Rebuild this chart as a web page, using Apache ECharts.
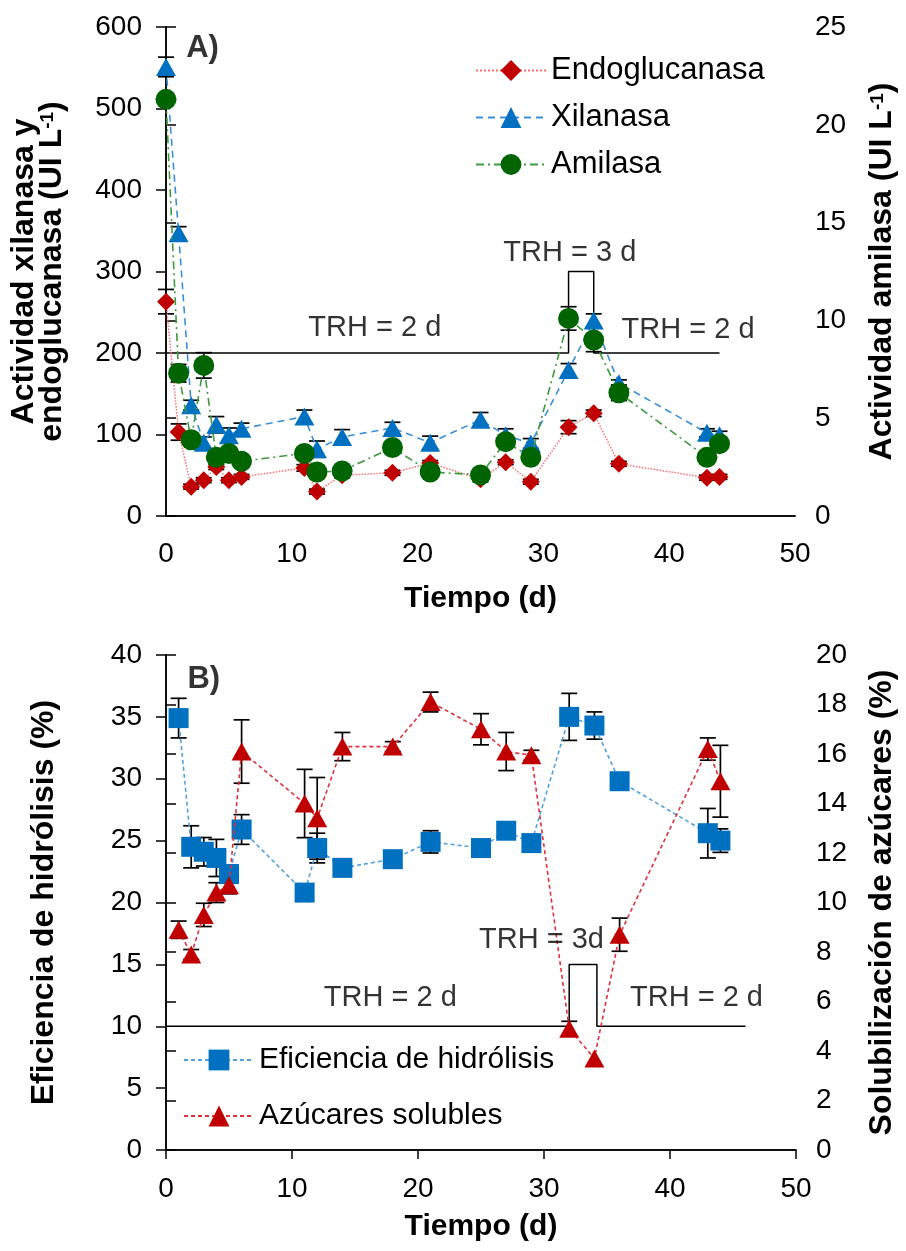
<!DOCTYPE html>
<html>
<head>
<meta charset="utf-8">
<script src="https://cdn.jsdelivr.net/npm/echarts@6/dist/echarts.min.js"></script>
<style>
html,body{margin:0;padding:0;background:#fff;}
#chart{width:906px;height:1251px;}
</style>
</head>
<body>
<div id="chart"></div>
<script>
// ---------- Panel A data ----------
const daysA = [0, 1, 2, 3, 4, 5, 6, 11, 12, 14, 18, 21, 25, 27, 29, 32, 34, 36, 43, 44];
const endo    = [263, 103, 36, 44, 60, 44, 48, 59, 30, 50, 53, 65, 45, 66, 42, 109, 126, 64, 47, 48];
const endoErr = [15, 10, 3, 3, 3, 3, 3, 4, 3, 3, 3, 3, 3, 3, 3, 8, 4, 3, 3, 3];
const xil     = [551, 347, 136, 90, 112, 99, 107, 122, 82, 97, 108, 90, 118, 99, 89, 179, 240, 163, 102, 99];
const xilErr  = [12, 8, 6, 7, 10, 9, 7, 8, 10, 9, 7, 8, 9, 8, 6, 8, 8, 4, 5, 5];
const ami     = [21.3, 7.3, 3.9, 7.7, 3.0, 3.2, 2.8, 3.2, 2.25, 2.3, 3.5, 2.25, 2.1, 3.8, 3.0, 10.1, 9.0, 6.3, 3.0, 3.7];
const amiErr  = [0.2, 0.45, 0.1, 0.65, 0.2, 0.1, 0.1, 0.1, 0.1, 0.1, 0.1, 0.1, 0.1, 0.2, 0.1, 0.6, 0.6, 0.4, 0.1, 0.1];
const trhA = [[0, 200], [32, 200], [32, 300], [34, 300], [34, 200], [44, 200]];
const notesA = [
  {value: [16.6, 231], name: 'TRH = 2 d'},
  {value: [32.1, 323], name: 'TRH = 3 d'},
  {value: [41.5, 228], name: 'TRH = 2 d'}
];
const tagA = [{value: [2.9, 574], name: 'A)'}];

// ---------- Panel B data ----------
const daysB = [1, 2, 3, 4, 5, 6, 11, 12, 14, 18, 21, 25, 27, 29, 32, 34, 36, 43, 44];
const efic    = [34.9, 24.5, 24.1, 23.6, 22.3, 25.9, 20.8, 24.4, 22.8, 23.5, 24.9, 24.4, 25.8, 24.8, 35.0, 34.3, 29.8, 25.6, 25.0];
const eficErr = [1.6, 1.7, 1.15, 1.5, 0.7, 1.2, 0.3, 1.2, 0.6, 0.4, 0.9, 0.3, 0.4, 0.4, 1.9, 1.1, 0.6, 2.0, 0.95];
const azu     = [8.9, 7.9, 9.5, 10.4, 10.7, 16.1, 14.0, 13.4, 16.3, 16.3, 18.1, 17.0, 16.1, 15.95, 4.9, 3.7, 8.7, 16.2, 14.9];
const azuErr  = [0.35, 0.2, 0.47, 0.4, 0.35, 1.28, 1.38, 1.65, 0.57, 0.2, 0.4, 0.63, 0.77, 0.2, 0.3, 0, 0.67, 0.45, 1.45];
const trhB = [[0, 10], [32, 10], [32, 15], [34.2, 15], [34.2, 10], [46, 10]];
const notesB = [
  {value: [17.8, 12.3], name: 'TRH = 2 d'},
  {value: [29.8, 17.0], name: 'TRH = 3d'},
  {value: [42.1, 12.3], name: 'TRH = 2 d'}
];
const tagB = [{value: [3.0, 38.0], name: 'B)'}];

// ---------- helpers ----------
const FONT = 'Liberation Sans';
const FS = 28;
const pair = (xs, ys) => xs.map((x, i) => [x, ys[i]]);
const errData = (xs, ys, es) => xs.map((x, i) => [x, ys[i] - es[i], ys[i] + es[i]]).filter((d, i) => es[i] > 0);

function errSeries(xs, ys, es, xi, yi) {
  return {
    type: 'custom', xAxisIndex: xi, yAxisIndex: yi, z: 2, silent: true,
    data: errData(xs, ys, es),
    encode: {x: 0, y: [1, 2]},
    renderItem: function (params, api) {
      const x = api.value(0);
      const lo = api.coord([x, api.value(1)]);
      const hi = api.coord([x, api.value(2)]);
      const w = 8;
      const st = {stroke: '#000', lineWidth: 1.7};
      return {type: 'group', children: [
        {type: 'line', shape: {x1: lo[0], y1: lo[1], x2: hi[0], y2: hi[1]}, style: st},
        {type: 'line', shape: {x1: lo[0] - w, y1: lo[1], x2: lo[0] + w, y2: lo[1]}, style: st},
        {type: 'line', shape: {x1: hi[0] - w, y1: hi[1], x2: hi[0] + w, y2: hi[1]}, style: st}
      ]};
    }
  };
}
function noteSeries(data, xi, yi, bold) {
  return {
    type: 'scatter', xAxisIndex: xi, yAxisIndex: yi, symbolSize: 0, silent: true, z: 8,
    data: data,
    label: {show: true, position: 'inside', formatter: p => p.name, color: '#000',
      fontFamily: FONT, fontSize: bold ? 31 : 29, fontWeight: bold ? 'bold' : 'normal'}
  };
}
const axisLine = {show: true, lineStyle: {color: '#000', width: 1.5}};
const labelStyle = {color: '#000', fontFamily: FONT, fontSize: FS};
const xNameStyle = {color: '#000', fontFamily: FONT, fontSize: 30, fontWeight: 'bold'};
const yNameStyle = {color: '#000', fontFamily: FONT, fontSize: 32, fontWeight: 'bold'};
const supRich = {sup: {fontFamily: FONT, fontSize: 19, fontWeight: 'bold', color: '#000', verticalAlign: 'top', padding: [0, 0, 12, 0]}};

function xBottom(grid, margin, ticks, gap) {
  return {type: 'value', gridIndex: grid, min: 0, max: 50, interval: 10, position: 'bottom',
    axisLine: axisLine, axisTick: {show: ticks, inside: false, length: 9, lineStyle: {color: '#000', width: 1.5}},
    axisLabel: Object.assign({margin: margin}, labelStyle), splitLine: {show: false},
    name: 'Tiempo (d)', nameLocation: 'middle', nameGap: gap, nameTextStyle: xNameStyle};
}
function xTop(grid) {
  return {type: 'value', gridIndex: grid, min: 0, max: 50, position: 'top',
    axisLine: axisLine, axisTick: {show: false}, axisLabel: {show: false}, splitLine: {show: false}};
}
function yAx(grid, pos, min, max, interval, name, gap, margin) {
  return {type: 'value', gridIndex: grid, position: pos, min: min, max: max, interval: interval,
    axisLine: axisLine, axisTick: {show: true, length: 10, lineStyle: {color: '#000', width: 1.5}},
    axisLabel: Object.assign({margin: margin}, labelStyle), splitLine: {show: false},
    name: name, nameLocation: 'middle', nameRotate: 90, nameGap: gap,
    nameTextStyle: Object.assign({rich: supRich, lineHeight: 28}, yNameStyle)};
}

const option = {
  backgroundColor: '#fff',
  animation: false,
  grid: [
    {left: 166, right: 106, top: 27, height: 489},
    {left: 166, right: 106, top: 655, height: 495}
  ],
  xAxis: [xBottom(0, 24, false, 68), xTop(0), xBottom(1, 25, true, 62), xTop(1)],
  yAxis: [
    yAx(0, 'left', 0, 600, 100, 'Actividad xilanasa y\nendoglucanasa (UI L{sup|-1})', 100, 24),
    yAx(0, 'right', 0, 25, 5, 'Actividad amilasa (UI L{sup|-1})', 73, 20),
    yAx(1, 'left', 0, 40, 5, 'Eficiencia de hidrólisis (%)', 108, 24),
    yAx(1, 'right', 0, 20, 2, 'Solubilización de azúcares (%)', 72, 20)
  ],
  legend: [
    {orient: 'vertical', left: 470, top: 50, itemWidth: 70, itemHeight: 26, itemGap: 16,
      textStyle: {color: '#000', fontFamily: FONT, fontSize: 31},
      data: ['Endoglucanasa', 'Xilanasa', 'Amilasa']},
    {orient: 'vertical', left: 178, top: 1040, itemWidth: 70, itemHeight: 26, itemGap: 26,
      textStyle: {color: '#000', fontFamily: FONT, fontSize: 30},
      data: ['Eficiencia de hidrólisis', 'Azúcares solubles']}
  ],
  series: [
    {type: 'line', name: 'TRH A', xAxisIndex: 0, yAxisIndex: 0, data: trhA, symbol: 'none', silent: true,
      lineStyle: {color: '#000', width: 1.5}, z: 1},
    {type: 'line', name: 'Endoglucanasa', xAxisIndex: 0, yAxisIndex: 0, data: pair(daysA, endo),
      symbol: 'diamond', symbolSize: 18, itemStyle: {color: '#C00000'},
      lineStyle: {color: '#FF6F6F', width: 1.5, type: 'dotted'}, z: 3},
    {type: 'line', name: 'Xilanasa', xAxisIndex: 0, yAxisIndex: 0, data: pair(daysA, xil),
      symbol: 'triangle', symbolSize: [20, 18], itemStyle: {color: '#0070C0'},
      lineStyle: {color: '#3A8FD9', width: 1.6, type: [7, 5]}, z: 4},
    {type: 'line', name: 'Amilasa', xAxisIndex: 0, yAxisIndex: 1, data: pair(daysA, ami),
      symbol: 'circle', symbolSize: 21, itemStyle: {color: '#006400'},
      lineStyle: {color: '#3D9A3D', width: 1.6, type: [8, 4, 2, 4]}, z: 5},
    errSeries(daysA, endo, endoErr, 0, 0),
    errSeries(daysA, xil, xilErr, 0, 0),
    errSeries(daysA, ami, amiErr, 0, 1),
    noteSeries(notesA, 0, 0, false),
    noteSeries(tagA, 0, 0, true),

    {type: 'line', name: 'TRH B', xAxisIndex: 2, yAxisIndex: 2, data: trhB, symbol: 'none', silent: true,
      lineStyle: {color: '#000', width: 1.5}, z: 1},
    {type: 'line', name: 'Eficiencia de hidrólisis', xAxisIndex: 2, yAxisIndex: 2, data: pair(daysB, efic),
      symbol: 'rect', symbolSize: 20, itemStyle: {color: '#0070C0'},
      lineStyle: {color: '#4FA3E0', width: 1.6, type: [4, 3]}, z: 3},
    {type: 'line', name: 'Azúcares solubles', xAxisIndex: 2, yAxisIndex: 3, data: pair(daysB, azu),
      symbol: 'triangle', symbolSize: [20, 18], itemStyle: {color: '#C00000'},
      lineStyle: {color: '#E0303A', width: 1.6, type: [4, 3]}, z: 4},
    errSeries(daysB, efic, eficErr, 2, 2),
    errSeries(daysB, azu, azuErr, 2, 3),
    noteSeries(notesB, 2, 2, false),
    noteSeries(tagB, 2, 2, true)
  ]
};

const chart = echarts.init(document.getElementById('chart'), null, {renderer: 'canvas'});
chart.setOption(option);
</script>
</body>
</html>
